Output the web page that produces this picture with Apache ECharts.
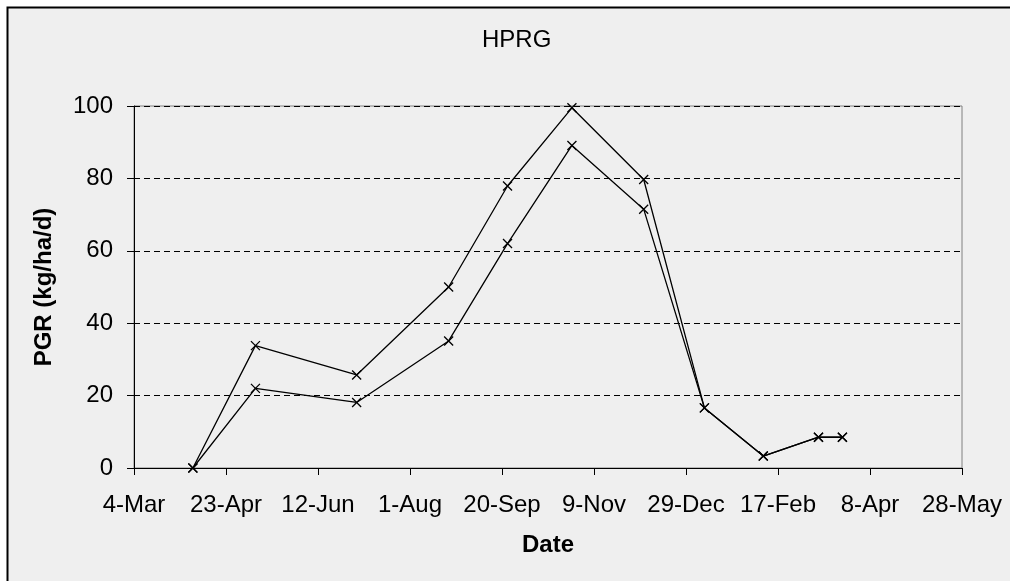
<!DOCTYPE html>
<html>
<head>
<meta charset="utf-8">
<script src="https://cdn.jsdelivr.net/npm/echarts@6/dist/echarts.min.js"></script>
<style>
  html, body { margin: 0; padding: 0; background: #fff; }
  #containerLine { width: 1010px; height: 581px; }
</style>
</head>
<body>
<div id="containerLine"></div>
<script>
var domLine = document.getElementById('containerLine');
var chartLine = echarts.init(domLine);

// day 0 of the x axis (4-Mar)
var startDate = '2005-03-04';

var dates = [
	'2005-04-05',
	'2005-05-09',
	'2005-07-03',
	'2005-08-22',
	'2005-09-23',
	'2005-10-28',
	'2005-12-06',
	'2006-01-08',
	'2006-02-09',
	'2006-03-11',
	'2006-03-24'
];

var upperValues = [0, 33.8, 25.7, 50.0, 77.9, 99.5, 79.7, 16.6, 3.3, 8.5, 8.5];
var lowerValues = [0, 22.0, 18.1, 35.1, 62.0, 89.1, 71.5, 16.6, 3.3, 8.5, 8.5];

var months = ['Jan', 'Feb', 'Mar', 'Apr', 'May', 'Jun', 'Jul', 'Aug', 'Sep', 'Oct', 'Nov', 'Dec'];
var DAY = 86400000;

function toDay(s) {
	return Math.round((Date.parse(s) - Date.parse(startDate)) / DAY);
}

function pairs(vals) {
	return dates.map(function (d, i) {
		return [toDay(d), vals[i]];
	});
}

var cross = 'path://M0,0L10,10M10,0L0,10';

function lineSeries(name, vals) {
	return {
		name: name,
		type: 'line',
		symbol: cross,
		symbolSize: 9,
		itemStyle: {
			color: 'none',
			borderColor: '#000',
			borderWidth: 1.3
		},
		lineStyle: {
			color: '#000',
			width: 1.3
		},
		emphasis: { disabled: true },
		animation: false,
		data: pairs(vals)
	};
}

var font = 'Liberation Sans, Arial, sans-serif';

var line = {
	textStyle: { fontFamily: font },
	title: {
		text: 'HPRG',
		left: 482,
		top: 28,
		padding: 0,
		textStyle: {
			fontFamily: font,
			fontSize: 24,
			fontWeight: 'normal',
			color: '#000'
		}
	},
	graphic: [{
		type: 'rect',
		z: -100,
		shape: { x: 7.5, y: 7.5, width: 1200, height: 800 },
		style: { fill: '#efefef', stroke: '#000', lineWidth: 2 }
	}],
	grid: {
		left: 134,
		right: 48,
		top: 106,
		bottom: 113,
		show: true,
		borderColor: '#808080',
		borderWidth: 1,
		backgroundColor: 'transparent'
	},
	xAxis: {
		type: 'value',
		min: 0,
		max: 450,
		interval: 50,
		name: 'Date',
		nameLocation: 'middle',
		nameGap: 65,
		nameTextStyle: {
			fontFamily: font,
			fontSize: 24,
			fontWeight: 'bold',
			color: '#000'
		},
		axisLine: { lineStyle: { color: '#000', width: 1 } },
		axisTick: { show: true, length: 7, lineStyle: { color: '#000' } },
		splitLine: { show: false },
		axisLabel: {
			fontFamily: font,
			fontSize: 24,
			color: '#000',
			margin: 25,
			showMinLabel: true,
			showMaxLabel: true,
			formatter: function (v) {
				var d = new Date(Date.parse(startDate) + v * DAY);
				return d.getUTCDate() + '-' + months[d.getUTCMonth()];
			}
		}
	},
	yAxis: {
		type: 'value',
		min: 0,
		max: 100,
		interval: 20,
		name: 'PGR (kg/ha/d)',
		nameLocation: 'middle',
		nameGap: 78,
		nameTextStyle: {
			fontFamily: font,
			fontSize: 24,
			fontWeight: 'bold',
			color: '#000'
		},
		axisLine: { show: true, lineStyle: { color: '#000', width: 1 } },
		axisTick: { show: true, length: 7, lineStyle: { color: '#000' } },
		axisLabel: {
			fontFamily: font,
			fontSize: 24,
			color: '#000',
			margin: 21
		},
		splitLine: {
			show: true,
			lineStyle: { color: '#000', type: [6, 4], width: 1 }
		}
	},
	series: [
		lineSeries('upper', upperValues),
		lineSeries('lower', lowerValues)
	]
};

chartLine.setOption(line);
</script>
</body>
</html>
